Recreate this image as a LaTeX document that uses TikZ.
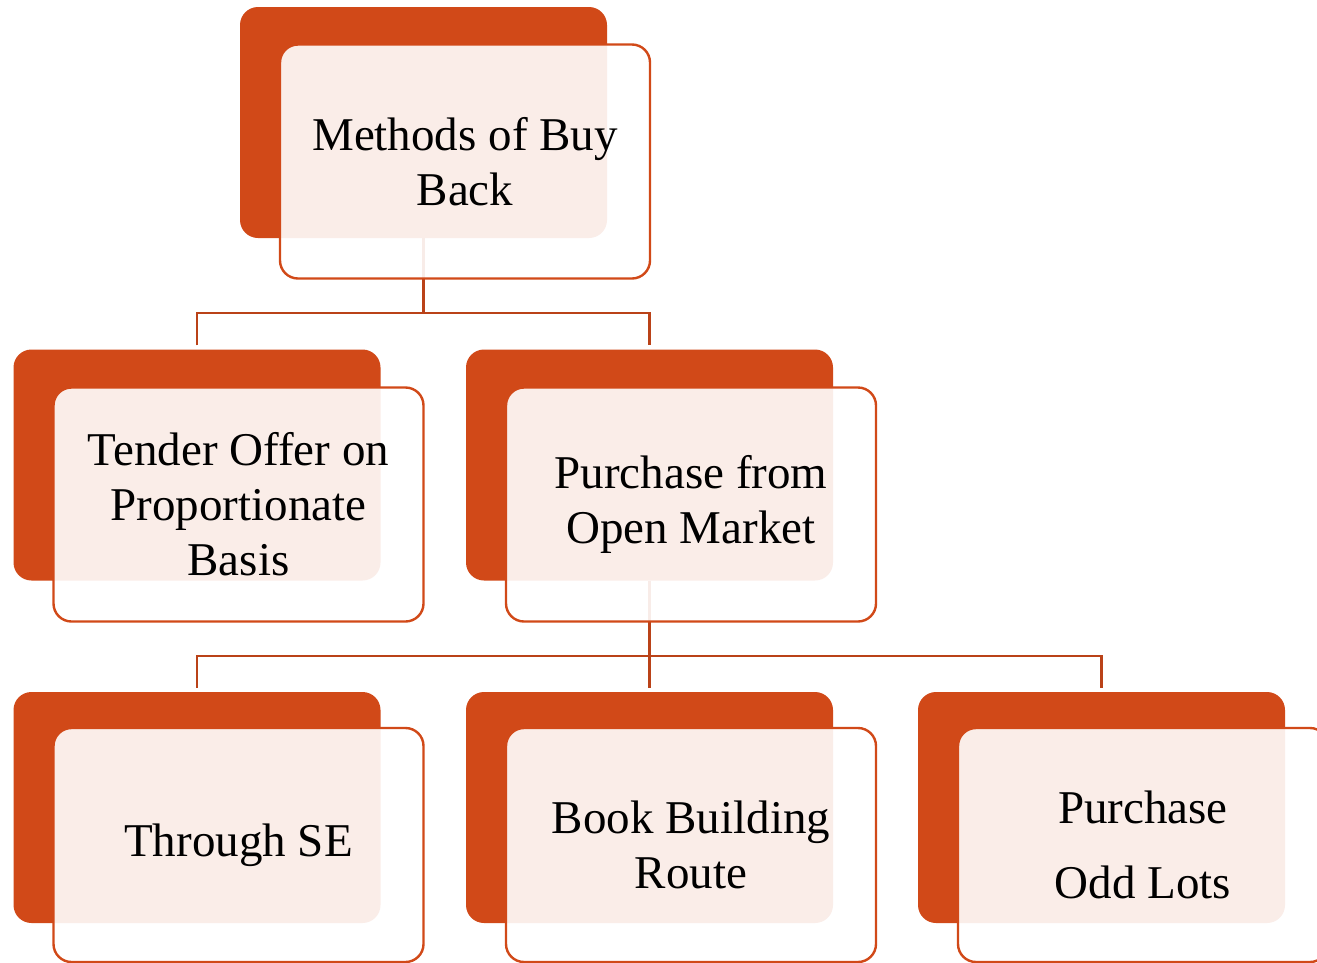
\documentclass[tikz,border=0pt]{standalone}
\usepackage{fontspec}
\setmainfont{Liberation Serif}
\definecolor{brick}{RGB}{209,73,24}
\definecolor{connc}{RGB}{186,66,24}
\tikzset{
  x=1pt, y=-1pt,
  backbox/.style={fill=brick, draw=none, rounded corners=18pt, inner sep=0pt,
    minimum width=367pt, minimum height=231pt},
  frontbox/.style={fill=white, fill opacity=0.9, text opacity=1, draw=brick, draw opacity=1,
    line width=2.4pt, rounded corners=18pt, inner sep=0pt,
    minimum width=370pt, minimum height=234pt, align=center,
    font=\fontsize{47}{55}\selectfont, text=black},
  conn/.style={draw=connc, line width=2.8pt}
}
\begin{document}
\begin{tikzpicture}
\useasboundingbox (0,0) rectangle (1317,962);
\clip (0,0) rectangle (1317,962);
\fill[white] (0,0) rectangle (1317,962);
% back boxes
\node[backbox] (b0) at (423.5,122.5) {};
\node[backbox] (b1) at (197,465) {};
\node[backbox] (b2) at (649.5,465) {};
\node[backbox] (b3) at (197,807.5) {};
\node[backbox] (b4) at (649.5,807.5) {};
\node[backbox] (b5) at (1101.5,807.5) {};
% connectors
\coordinate (j0) at (423.5,313);
\coordinate (j1) at (649.5,656);
\draw[conn] (b0.south) -- (j0);
\draw[conn] ([yshift=4pt]b1.north) |- (j0) -| ([yshift=4pt]b2.north);
\draw[conn] (b2.south) -- ([yshift=4pt]b4.north);
\draw[conn] ([yshift=4pt]b3.north) |- (j1) -| ([yshift=4pt]b5.north);
% front boxes
\node[frontbox] (f0) at (465,161.5) {Methods of Buy\\Back};
\node[frontbox] (f1) at (238.5,504.5) {Tender Offer on\\Proportionate\\Basis};
\node[frontbox] (f2) at (691,504.5) {Purchase from\\Open Market};
\node[frontbox] (f3) at (238.5,845) {Through SE};
\node[frontbox] (f4) at (691,845) {Book Building\\Route};
\node[frontbox] (f5) at (1143,845) {Purchase\\[20pt]Odd Lots};
\end{tikzpicture}
\end{document}
